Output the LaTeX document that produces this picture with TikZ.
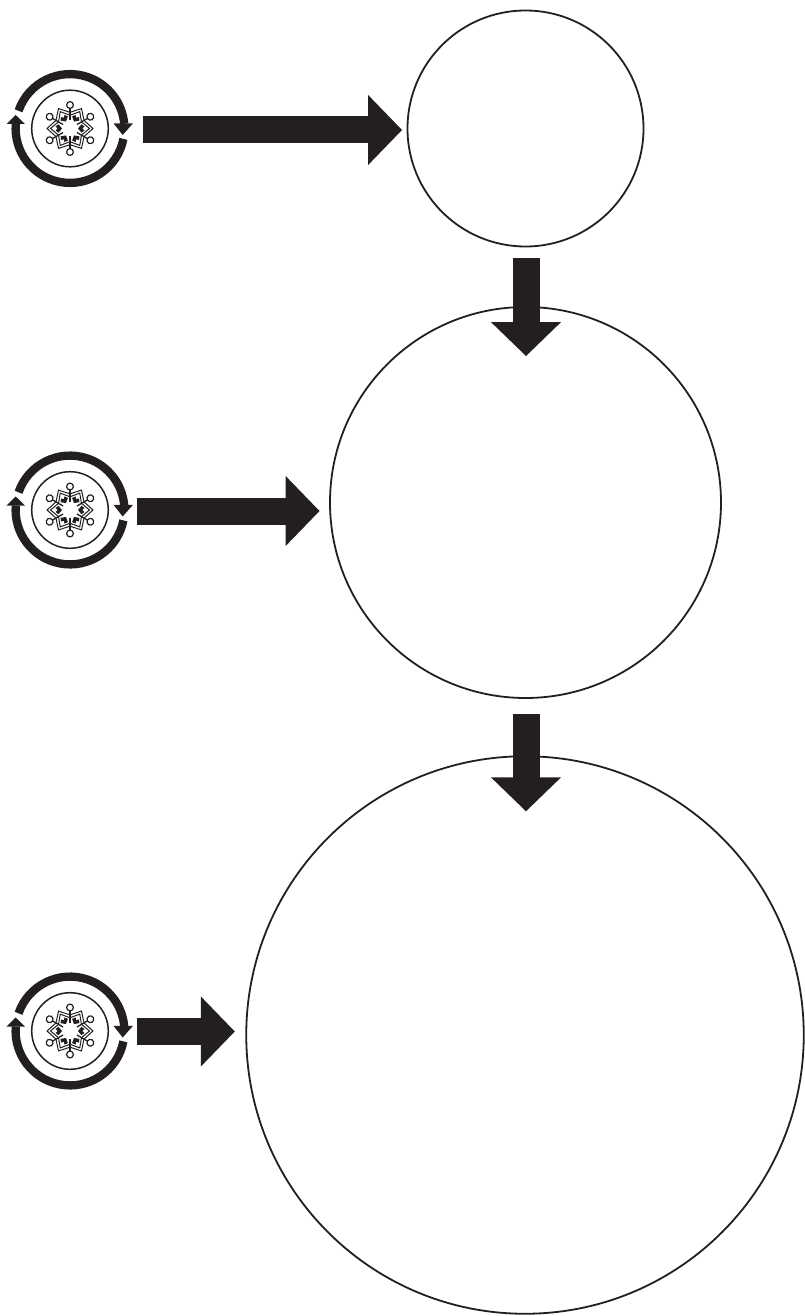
\documentclass[tikz,border=0pt]{standalone}
\usetikzlibrary{arrows.meta}
\definecolor{ink}{HTML}{231F20}
\tikzset{
  x=1pt,y=1pt,
  bigcircle/.style={circle,draw=ink,line width=1.8pt,inner sep=0pt,fill=none},
  iconbox/.style={circle,inner sep=0pt,minimum size=117pt},
  blockarrow/.style={ink,line width=27pt,-{Triangle[length=34pt,width=68pt]}},
  ringarc/.style={ink,line width=8.3pt},
  flake/.style={ink,line width=1pt,line join=miter},
  pics/coldcycle/.style={code={
    \draw[ink,line width=1.5pt] (0,0) circle[radius=38.3];
    \draw[ringarc] (161:54.4) arc[start angle=161,end angle=5,radius=54.4];
    \draw[ringarc] (-11:54.4) arc[start angle=-11,end angle=-184.7,radius=54.4];
    \fill[ink] (52.7,-6.5) -- (63,5.2) -- (43.5,5.2) -- cycle;
    \fill[ink] (-54.3,13.5) -- (-63.5,4.5) -- (-45,4.5) -- cycle;
    \foreach \a in {30,90,...,330}{
      \begin{scope}[rotate=\a]
        \draw[flake,line width=1.3pt] (8,0) -- (20.2,0);
        \draw[flake,line width=1.2pt] (23.5,0) circle[radius=3.4];
      \end{scope}
    }
    \foreach \a in {0,60,...,300}{
      \begin{scope}[rotate=\a]
        \draw[flake] (14,8.1) -- (23,0) -- (14,-8.1);
        \draw[flake] (11.5,6.6) -- (19.5,0) -- (11.5,-6.6);
        \fill[ink] (8,0) -- (11.5,-4.2) -- (14.5,-2) -- (12.4,0) -- (14.5,2) -- (11.5,4.2) -- cycle;
      \end{scope}
    }
  }}
}
\begin{document}
\begin{tikzpicture}
\useasboundingbox (0,0) rectangle (804,-1316);
\node[bigcircle,minimum size=236pt] (c1) at (525.5,-128.5) {};
\node[bigcircle,minimum size=391pt] (c2) at (525.5,-502.5) {};
\node[bigcircle,minimum size=557.5pt] (c3) at (525,-1035) {};
\node[iconbox] (i1) at (70,-128.5) {};
\node[iconbox] (i2) at (70,-510) {};
\node[iconbox] (i3) at (70,-1031) {};
\pic at (i1) {coldcycle};
\pic at (i2) {coldcycle};
\pic at (i3) {coldcycle};
\draw[blockarrow,shorten <=14pt,shorten >=4.5pt] ([yshift=-1.5pt]i1.east) -- ([yshift=-1.5pt]c1.west);
\draw[blockarrow,shorten <=8.5pt,shorten >=9.5pt] ([yshift=-1pt]i2.east) -- ([yshift=-1pt]i2.east -| c2.west);
\draw[blockarrow,shorten <=8.5pt,shorten >=10.5pt] ([yshift=-.5pt]i3.east) -- ([yshift=-.5pt]i3.east -| c3.west);
\draw[blockarrow,shorten <=11pt,shorten >=-50pt] ([xshift=.5pt]c1.south) -- ([xshift=.5pt]c2.north);
\draw[blockarrow,shorten <=15.5pt,shorten >=-56pt] ([xshift=.5pt]c2.south) -- ([xshift=.5pt]c2.south |- c3.north);
\end{tikzpicture}
\end{document}
